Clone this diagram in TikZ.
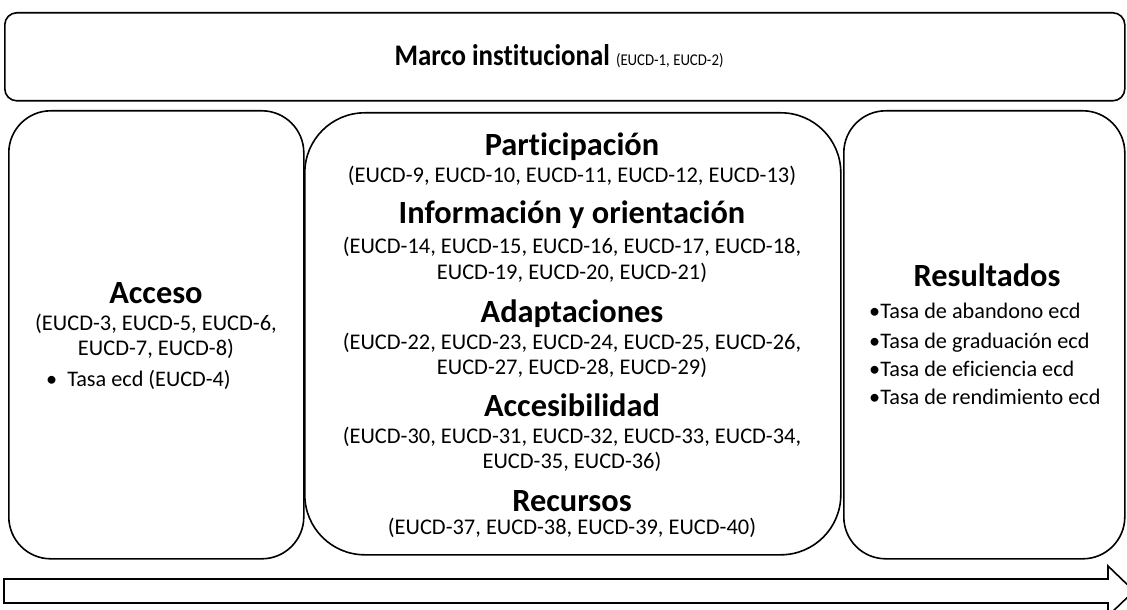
\documentclass[tikz,border=0pt]{standalone}
\usepackage{fontspec}
\setmainfont{Carlito}[Ligatures=NoCommon]
\newfontfamily\narrowfont{Carlito}[FakeStretch=0.9,Ligatures=NoCommon]
\begin{document}
\begin{tikzpicture}[x=1bp,y=-1bp,
  box/.style={draw=black, line width=1.6bp, fill=white, inner sep=0pt, anchor=north west},
  head/.style={font=\fontsize{32.5}{36}\selectfont\bfseries, anchor=base, inner sep=0pt},
  ref/.style={font=\fontsize{22.5}{26}\selectfont, anchor=base, inner sep=0pt},
  item/.style={font=\fontsize{22.3}{26}\selectfont, anchor=base west, inner sep=0pt}]
\useasboundingbox (0,0) rectangle (1127,610);

% boxes
\node[box, rounded corners=12bp, minimum width=1120bp, minimum height=88bp] (marco) at (4,12) {};
\node[box, rounded corners=42bp, minimum width=295bp, minimum height=448bp] (acceso) at (8,110) {};
\node[box, rounded corners=60bp, minimum width=536bp, minimum height=442bp] (centro) at (304,112) {};
\node[box, rounded corners=42bp, minimum width=281bp, minimum height=448bp] (resultados) at (843,110) {};

% top text
\node[anchor=base, inner sep=0pt] (marcot) at (559,66)
  {\narrowfont\fontsize{30}{33}\selectfont\bfseries Marco institucional \fontsize{16.5}{18}\selectfont\mdseries (EUCD-1, EUCD-2)};

% left box
\node[head] (accesoh) at (156,304) {Acceso};
\node[ref] (acceso1) at (156,331) {(EUCD-3, EUCD-5, EUCD-6,};
\node[ref] (acceso2) at (156,355) {EUCD-7, EUCD-8)};
\node[item] (acceso3) at (46,386) {•\hspace{10bp}Tasa ecd (EUCD-4)};

% middle box
\node[head] (parth) at (572,156) {Participación};
\node[ref] (part1) at (572,183) {(EUCD-9, EUCD-10, EUCD-11, EUCD-12, EUCD-13)};
\node[head] (infoh) at (572,224) {Información y orientación};
\node[ref] (info1) at (572,254) {(EUCD-14, EUCD-15, EUCD-16, EUCD-17, EUCD-18,};
\node[ref] (info2) at (572,280) {EUCD-19, EUCD-20, EUCD-21)};
\node[head] (adaph) at (572,323) {Adaptaciones};
\node[ref] (adap1) at (572,349) {(EUCD-22, EUCD-23, EUCD-24, EUCD-25, EUCD-26,};
\node[ref] (adap2) at (572,374) {EUCD-27, EUCD-28, EUCD-29)};
\node[head] (acch) at (572,416) {Accesibilidad};
\node[ref] (acc1) at (572,443) {(EUCD-30, EUCD-31, EUCD-32, EUCD-33, EUCD-34,};
\node[ref] (acc2) at (572,468) {EUCD-35, EUCD-36)};
\node[head] (recuh) at (572,511) {Recursos};
\node[ref] (recu1) at (572,534) {(EUCD-37, EUCD-38, EUCD-39, EUCD-40)};

% right box
\node[head] (resh) at (987,287) {Resultados};
\node[item] (res1) at (869,319) {•Tasa de abandono ecd};
\node[item] (res2) at (869,348) {•Tasa de graduación ecd};
\node[item] (res3) at (869,376) {•Tasa de eficiencia ecd};
\node[item] (res4) at (869,404) {•Tasa de rendimiento ecd};

% bottom arrow
\begin{scope}
\clip (0,0) rectangle (1127,610);
\draw[line width=1.6bp, fill=white, line join=miter]
  (4,579) -- (1108,579) -- (1108,566) -- (1134,591) -- (1108,616) -- (1108,603) -- (4,603) -- cycle;
\end{scope}
\end{tikzpicture}
\end{document}
